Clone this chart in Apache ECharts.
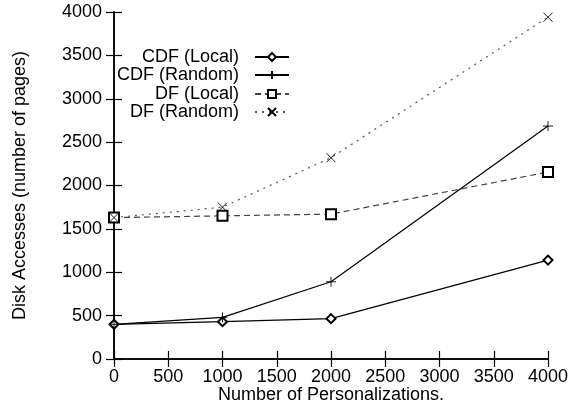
<!DOCTYPE html>
<html><head><meta charset="utf-8">
<script src="https://cdn.jsdelivr.net/npm/echarts@6/dist/echarts.min.js"></script>
<style>html,body{margin:0;padding:0;background:#fff}#c{width:568px;height:408px}</style>
</head><body><div id="c"></div>
<script>
const xValues = [0, 1000, 2000, 4000];
const seriesNames = ['CDF (Local)', 'CDF (Random)', 'DF (Local)', 'DF (Random)'];
const cdfLocal = [400, 430, 465, 1140];
const cdfRandom = [400, 480, 890, 2685];
const dfLocal = [1630, 1650, 1670, 2155];
const dfRandom = [1630, 1750, 2320, 3940];
const xTitle = 'Number of Personalizations.';
const yTitle = 'Disk Accesses (number of pages)';

const FONT = 'Liberation Sans, Arial, Helvetica, sans-serif';
const FS = 18;
const plusPath = 'path://M5,0L5,10M0,5L10,5';
const crossPath = 'path://M0,0L10,10M0,10L10,0';
function pts(arr){ return xValues.map((x,i)=>[x, arr[i]]); }

const specs = [
  {data: cdfLocal, symbol: 'emptyDiamond', size: 9, line: {color:'#000', width:1.2, type:'solid'}},
  {data: cdfRandom, symbol: plusPath, size: 10, line: {color:'#000', width:1.2, type:'solid'}},
  {data: dfLocal, symbol: 'emptyRect', size: 10, line: {color:'#444', width:1.2, type:[6,4]}},
  {data: dfRandom, symbol: crossPath, size: 9, line: {color:'#555', width:1.2, type:[2,5]}}
];

const series = specs.map((s,i)=>({
  name: seriesNames[i], type:'line', data: pts(s.data),
  symbol: s.symbol, symbolSize: s.size, showAllSymbol: true,
  lineStyle: s.line,
  itemStyle: {color:'#000', borderColor:'#000', borderWidth:0.9},
  emphasis: {disabled:true}, animation:false, z: 3
}));

const rowTops = [48, 66, 85, 103];
const legends = seriesNames.map((n,i)=>({
  data:[n], orient:'vertical', right: 278, top: rowTops[i], padding:0,
  align:'right', itemWidth:34, itemHeight:10,
  textStyle:{fontFamily:FONT, fontSize:FS, color:'#000', padding:[0,11,0,0]},
  selectedMode:false
}));

const axisCommon = {
  axisLine:{show:true, lineStyle:{color:'#000', width:1.5}},
  axisTick:{show:true, inside:true, length:8, lineStyle:{color:'#000', width:1.2}},
  splitLine:{show:false}
};
const fmt = v => String(v);

const chart = echarts.init(document.getElementById('c'), null, {renderer:'canvas'});
chart.setOption({
  animation:false,
  backgroundColor:'#fff',
  grid:{left:114, right:20, top:12, bottom:49, containLabel:false, outerBoundsMode:'none'},
  legend: legends,
  xAxis:[
    Object.assign({type:'value', min:0, max:4000, interval:500, position:'bottom',
      name:xTitle, nameLocation:'middle', nameGap:27, nameMoveOverlap:false,
      nameTextStyle:{fontFamily:FONT, fontSize:FS, color:'#000'},
      axisLabel:{fontFamily:FONT, fontSize:FS, color:'#000', margin:9, formatter:fmt}}, axisCommon),
    Object.assign({type:'value', min:0, max:4000, interval:500, position:'top',
      axisLabel:{show:false}}, axisCommon)
  ],
  yAxis:[
    Object.assign({type:'value', min:0, max:4000, interval:500, position:'left',
      name:yTitle, nameLocation:'middle', nameGap:85, nameMoveOverlap:false,
      nameTextStyle:{fontFamily:FONT, fontSize:FS, color:'#000'},
      axisLabel:{fontFamily:FONT, fontSize:FS, color:'#000', margin:12, formatter:fmt}}, axisCommon),
    Object.assign({type:'value', min:0, max:4000, interval:500, position:'right',
      axisLabel:{show:false}}, axisCommon)
  ],
  series: series
});
</script></body></html>
